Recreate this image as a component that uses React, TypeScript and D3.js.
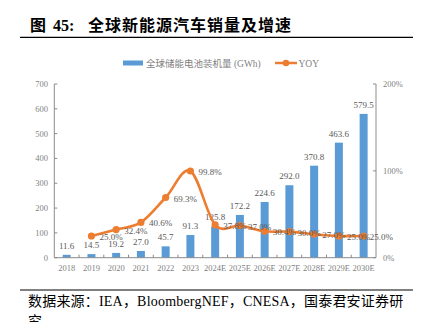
import React from 'react';
import * as d3 from 'd3';

const categories = ['2018','2019','2020','2021','2022','2023','2024E','2025E','2026E','2027E','2028E','2029E','2030E'];
const capacity = [11.6,14.5,19.2,27.0,45.7,91.3,125.8,172.2,224.6,292.0,370.8,463.6,579.5];
const yoy: (number|null)[] = [null,25.0,32.4,40.6,69.3,99.8,37.8,37.0,30.4,30.0,27.0,25.0,25.0];
const leftTicks = [0,100,200,300,400,500,600,700];
const rightTicks = [0,100,200];
const seriesNames = ['全球储能电池装机量 (GWh)', 'YOY'];
const titleParts = ['图', '45:', '全球新能源汽车销量及增速'];
const sourceLines = ['数据来源：IEA，BloombergNEF，CNESA，国泰君安证券研', '究'];

// layout (not data): horizontal offset of each YOY label from its point
const yoyLabelDx = [0,8,8,8,8,8,8,8,8,8,8,8,6];

const W = 427, H = 322;
const L = 54.3, R = 376, T = 84, B = 257.7;
const BLUE = '#5B9BD5';
const ORANGE = '#ED7D31';
const AXIS = '#8C8C8C';
const TICKTXT = '#7F7F7F';
const LBL = '#595959';
const SERIF = '"Liberation Serif", "Noto Sans CJK SC", serif';

export default function App() {
  const x = d3.scaleBand<string>().domain(categories).range([L, R]).paddingInner(0.677).paddingOuter(0.3385);
  const step = x.step();
  const yL = d3.scaleLinear().domain([0, 700]).range([B, T]);
  const yR = d3.scaleLinear().domain([0, 200]).range([B, T]);
  const cx = (c: string) => (x(c) as number) + x.bandwidth() / 2;

  const pts = categories
    .map((c, i) => ({ c, v: yoy[i], i }))
    .filter(d => d.v !== null) as { c: string; v: number; i: number }[];
  const line = d3.line<{ c: string; v: number }>()
    .x(d => cx(d.c))
    .y(d => yR(d.v))
    .curve(d3.curveCatmullRom.alpha(0));

  return (
    <svg width={W} height={H} style={{ position: 'absolute', left: 0, top: 0, background: '#fff' }}>
      {/* title */}
      <g fontFamily={SERIF} fontWeight="bold" fill="#000">
        <text x={30} y={31} fontSize={16}>{titleParts[0]}</text>
        <text x={53} y={31} fontSize={16}>{titleParts[1]}</text>
        <text x={88} y={31} fontSize={16} letterSpacing={1}>{titleParts[2]}</text>
      </g>
      <line x1={20} x2={413} y1={37.3} y2={37.3} stroke="#000" strokeWidth={1.3} />

      {/* legend */}
      <rect x={123} y={60.5} width={20} height={5} fill={BLUE} />
      <text x={146} y={66.5} fontSize={9.5} fill={TICKTXT} fontFamily={SERIF}>{seriesNames[0]}</text>
      <line x1={275} x2={297} y1={63} y2={63} stroke={ORANGE} strokeWidth={2.5} />
      <circle cx={286} cy={63} r={3.3} fill={ORANGE} />
      <text x={298.5} y={66.5} fontSize={9.5} fill={TICKTXT} fontFamily={SERIF}>{seriesNames[1]}</text>

      {/* bars */}
      {categories.map((c, i) => (
        <rect key={c} x={x(c)} y={yL(capacity[i])} width={x.bandwidth()} height={B - yL(capacity[i])} fill={BLUE} />
      ))}
      {categories.map((c, i) => (
        <text key={'bl' + c} x={cx(c)} y={yL(capacity[i]) - 6} fontSize={9} textAnchor="middle" fill={LBL} fontFamily={SERIF}>
          {capacity[i].toFixed(1)}
        </text>
      ))}

      {/* axes */}
      <line x1={L} x2={L} y1={T} y2={B} stroke={AXIS} strokeWidth={1} />
      <line x1={R} x2={R} y1={T} y2={B} stroke={AXIS} strokeWidth={1} />
      <line x1={L} x2={R} y1={B} y2={B} stroke={AXIS} strokeWidth={1} />
      {leftTicks.map(t => (
        <g key={'lt' + t}>
          <line x1={L} x2={L + 3} y1={yL(t)} y2={yL(t)} stroke={AXIS} />
          <text x={48} y={yL(t) + 3} fontSize={8.5} textAnchor="end" fill={TICKTXT} fontFamily={SERIF}>{t}</text>
        </g>
      ))}
      {rightTicks.map(t => (
        <g key={'rt' + t}>
          <line x1={R - 3} x2={R} y1={yR(t)} y2={yR(t)} stroke={AXIS} />
          <text x={383} y={yR(t) + 3} fontSize={8.5} textAnchor="start" fill={TICKTXT} fontFamily={SERIF}>{t + '%'}</text>
        </g>
      ))}
      {categories.map((c, i) => (
        <g key={'xt' + c}>
          {i > 0 && <line x1={L + step * i} x2={L + step * i} y1={B} y2={B - 3} stroke={AXIS} />}
          <text x={cx(c)} y={270.5} fontSize={8.5} textAnchor="middle" fill={TICKTXT} fontFamily={SERIF}>{c}</text>
        </g>
      ))}

      {/* YOY line */}
      <path d={line(pts) || ''} fill="none" stroke={ORANGE} strokeWidth={2.6} />
      {pts.map(d => (
        <circle key={'p' + d.c} cx={cx(d.c)} cy={yR(d.v)} r={3.6} fill={ORANGE} />
      ))}
      {pts.map(d => (
        <text key={'yl' + d.c} x={cx(d.c) + yoyLabelDx[d.i]} y={yR(d.v) + 4} fontSize={9} fill={LBL} fontFamily={SERIF}>
          {d.v.toFixed(1) + '%'}
        </text>
      ))}

      {/* source */}
      <line x1={20} x2={413} y1={290} y2={290} stroke="#000" strokeWidth={1} />
      <text x={28} y={306} fontSize={14} fill="#000" fontFamily={SERIF} letterSpacing={0.2}>{sourceLines[0]}</text>
      <text x={28} y={326} fontSize={14} fill="#000" fontFamily={SERIF}>{sourceLines[1]}</text>
    </svg>
  );
}
